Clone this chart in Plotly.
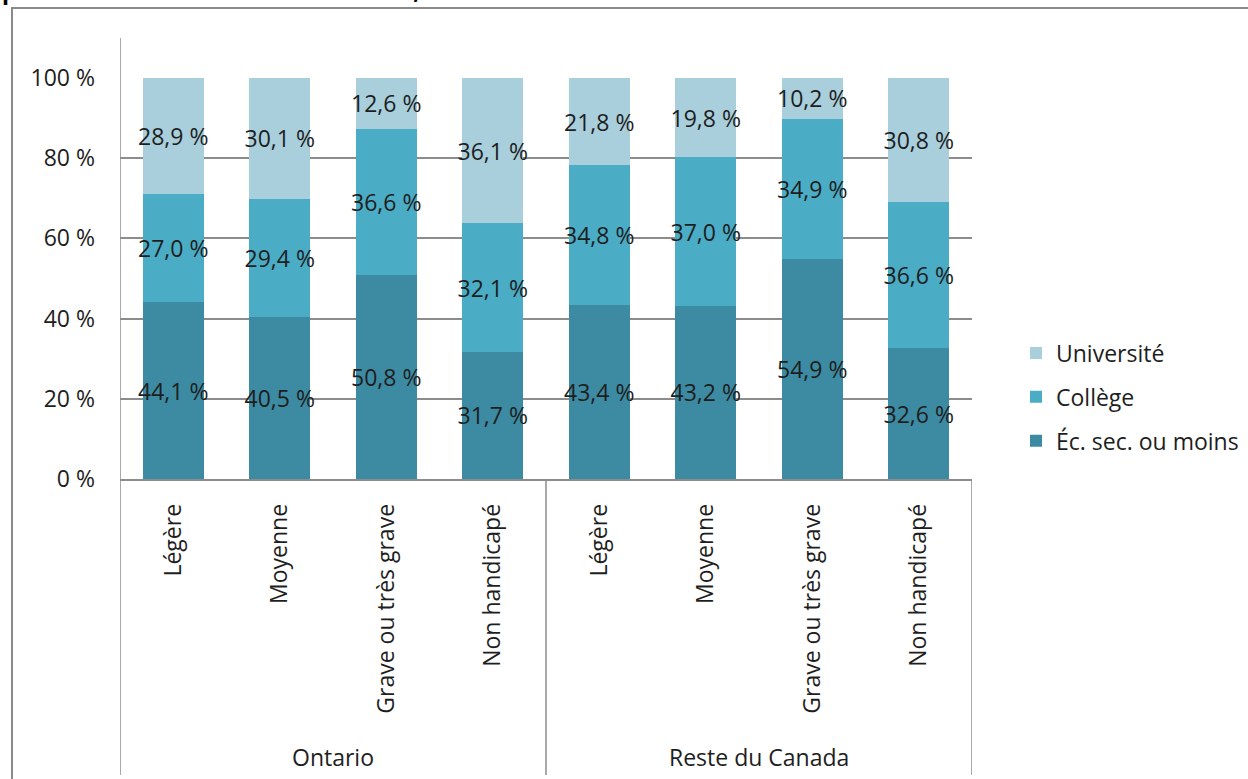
import plotly.graph_objects as go

groups = ["Ontario", "Reste du Canada"]
categories = ["Légère", "Moyenne", "Grave ou très grave", "Non handicapé"]
series_names = ["Éc. sec. ou moins", "Collège", "Université"]
ecsec = [44.1, 40.5, 50.8, 31.7, 43.4, 43.2, 54.9, 32.6]
college = [27.0, 29.4, 36.6, 32.1, 34.8, 37.0, 34.9, 36.6]
universite = [28.9, 30.1, 12.6, 36.1, 21.8, 19.8, 10.2, 30.8]
y_ticks = [0, 20, 40, 60, 80, 100]
title_text = "pour l'Ontario et le reste du Canada, 2006"

colors = ["#3D8BA3", "#4BACC6", "#A9CFDD"]
FONT = "Open Sans"
TXT = "#1e1e1e"
GRID = "#8c8c8c"

labels = [c for g in groups for c in categories]
xpos = list(range(len(labels)))


def fmt(v):
    return f"{v:.1f}".replace(".", ",") + " %"


fig = go.Figure()
for i, (name, vals, col) in enumerate(zip(series_names, [ecsec, college, universite], colors)):
    fig.add_trace(go.Bar(
        x=xpos, y=vals, name=name, legendgroup=name, legendrank=len(series_names) - i,
        marker=dict(color=col, line=dict(width=0)),
        text=[fmt(v) for v in vals], textposition="inside",
        insidetextanchor="middle", textangle=0, constraintext="none",
        textfont=dict(family=FONT, size=23, color=TXT),
    ))

W, H = 1248, 779
L, R, T, B = 120, 276, 78, 300
pw, ph = W - L - R, H - T - B


def px_y(py):
    return 1 - (py - T) / ph


def px_x(px):
    return (px - L) / pw


shapes = []
ncat = len(categories)
# outer frame
shapes.append(dict(type="rect", xref="paper", yref="paper",
                   x0=px_x(12), x1=px_x(1300), y0=px_y(8), y1=px_y(830),
                   line=dict(color="#8a8a8a", width=2), layer="below"))
# vertical axis line (extends through category labels)
shapes.append(dict(type="line", xref="x", yref="paper", x0=-0.5, x1=-0.5,
                   y0=px_y(38), y1=px_y(775), line=dict(color=GRID, width=1.5)))
for gi in range(1, len(groups) + 1):
    xb = gi * ncat - 0.5
    shapes.append(dict(type="line", xref="x", yref="paper", x0=xb, x1=xb,
                       y0=0, y1=px_y(775), line=dict(color=GRID, width=1.5)))

annotations = []
for gi, g in enumerate(groups):
    annotations.append(dict(x=gi * ncat + (ncat - 1) / 2, xref="x", y=px_y(757), yref="paper",
                            text=g, showarrow=False, xanchor="center", yanchor="middle",
                            font=dict(family=FONT, size=23, color=TXT)))
annotations.append(dict(x=px_x(0), xref="paper", y=px_y(8), yref="paper", text="<b>" + title_text + "</b>",
                        showarrow=False, xanchor="left", yanchor="bottom",
                        font=dict(family=FONT, size=23, color="#000")))

fig.update_layout(
    width=W, height=H,
    margin=dict(l=L, r=R, t=T, b=B, pad=0, autoexpand=False),
    paper_bgcolor="white", plot_bgcolor="white",
    barmode="stack", bargap=0.427,
    font=dict(family=FONT, size=23, color=TXT),
    showlegend=True,
    legend=dict(x=px_x(1016), y=px_y(397), xanchor="left", yanchor="middle",
                traceorder="grouped", tracegroupgap=11,
                font=dict(family=FONT, size=23, color=TXT),
                bgcolor="rgba(0,0,0,0)"),
    shapes=shapes, annotations=annotations,
    xaxis=dict(range=[-0.5, len(labels) - 0.5], tickmode="array", tickvals=xpos, ticktext=labels,
               tickangle=-90, showgrid=False, zeroline=False, showline=True,
               linecolor=GRID, linewidth=1.5, ticks="", ticklabelstandoff=14,
               tickfont=dict(family=FONT, size=23, color=TXT)),
    yaxis=dict(range=[0, 100], tickmode="array", tickvals=y_ticks,
               ticktext=[f"{v} %" for v in y_ticks], showgrid=True, gridcolor=GRID, gridwidth=1.5,
               zeroline=False, showline=False, ticks="", ticklabelstandoff=24,
               tickfont=dict(family=FONT, size=23, color=TXT)),
)

fig.write_html("out.html")
